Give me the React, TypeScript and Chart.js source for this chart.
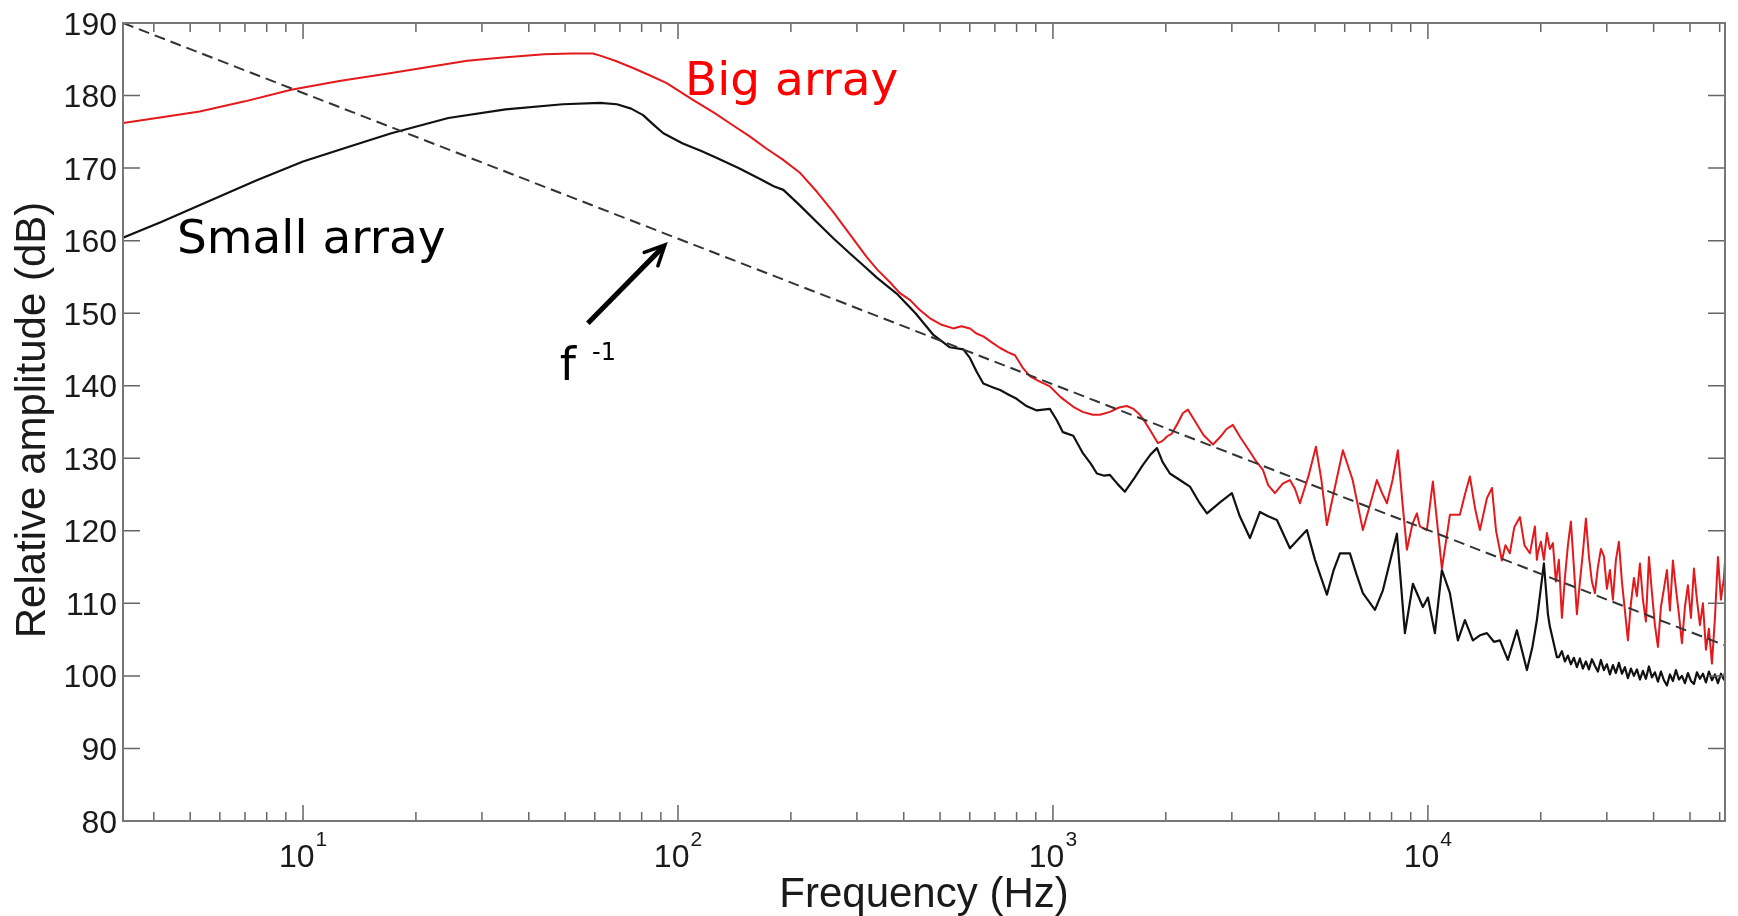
import React, { useEffect, useRef } from "react";
import { Chart, registerables } from "chart.js";

Chart.register(...registerables);

// ---------- axis ranges & ticks ----------
const X_MIN = 3.31;
const X_MAX = 62000;
const Y_MIN = 80;
const Y_MAX = 190;
const yTickValues = [80, 90, 100, 110, 120, 130, 140, 150, 160, 170, 180, 190];
const xMajorTicks = [10, 100, 1000, 10000];
const xMajorBase = "10";
const xMajorExponents = ["1", "2", "3", "4"];

const xTitle = "Frequency (Hz)";
const yTitle = "Relative amplitude (dB)";

// ---------- series: Big array (red) ----------
const bigFreq = [
  3.31, 4.2, 5.3, 7.0, 9.3, 12.5, 17.2, 22, 27.4, 33.5, 44, 52, 59.3, 62, 68, 75.9, 84, 93.3,
  109.6, 125, 140, 155, 172, 190, 211, 235, 259, 288, 318, 340, 367, 390, 416, 440, 470, 505,
  542, 570, 601, 625, 652, 690, 723, 760, 792, 830, 869, 920, 982, 1050, 1133, 1200, 1277, 1334,
  1420, 1500, 1574, 1640, 1706, 1760, 1815, 1905, 1960, 2014, 2076, 2150, 2220, 2291, 2400, 2520,
  2672, 2800, 2900, 3020, 3150, 3353, 3480, 3631, 3750, 3908, 4100, 4285, 4420, 4557, 4800, 5028,
  5200, 5379, 5650, 5933, 6300, 6709, 7000, 7311, 7550, 7777, 8050, 8318, 8550, 8790, 9100, 9347,
  9521, 9938, 10311, 10898, 11448, 12170, 12553, 12942, 13370, 13765, 14370, 14820, 15200, 15750,
  16100, 16540, 17000, 17600, 18100, 18710, 19290, 19530,
  19650, 20015, 20387, 20767, 21153, 21546, 21947, 22355, 22771, 23194, 23626, 24065, 24513, 24969,
  25433, 25906, 26388, 26879, 27379, 27888, 28407, 28935, 29473, 30021, 30580, 31149, 31728, 32318,
  32919, 33532, 34155, 34791, 35438, 36097, 36768, 37452, 38149, 38858, 39581, 40317, 41067, 41831,
  42609, 43402, 44209, 45031, 45869, 46722, 47591, 48476, 49378, 50296, 51232, 52185, 53155, 54144,
  55151, 56177, 57222, 58286, 59370, 60475, 61600, 61940,
];
const bigDb = [
  176.2, 177.0, 177.8, 179.2, 180.8, 182.0, 183.1, 184.0, 184.8, 185.2, 185.7, 185.8, 185.8, 185.5, 184.8, 183.8, 182.8, 181.7,
  179.4, 177.6, 175.9, 174.4, 172.7, 171.2, 169.4, 166.7, 164.0, 160.8, 157.8, 156.0, 154.3, 152.8, 151.8, 150.5, 149.3, 148.4,
  147.9, 148.2, 147.9, 147.2, 146.8, 145.9, 145.2, 144.6, 144.2, 142.5, 141.3, 140.6, 139.9, 138.4, 137.1, 136.4, 136.0, 136.0,
  136.4, 137.0, 137.2, 136.8, 136.0, 135.0, 133.9, 132.1, 132.4, 133.0, 133.4, 134.8, 136.2, 136.7, 135.0, 133.2,
  131.9, 133.0, 134.0, 134.6, 133.0, 130.9, 129.6, 128.4, 126.3, 125.2, 126.5, 127.0, 125.8, 123.8, 127.5, 131.6,
  127.0, 120.8, 126.0, 131.1, 127.0, 120.1, 123.5, 127.0, 125.2, 123.8, 127.0, 131.1, 124.0, 117.4, 121.0, 122.4,
  120.6, 120.1, 126.8, 114.8, 122.2, 122.2, 125.0, 127.5, 123.0, 120.1, 124.5, 125.9, 120.0, 115.9,
  118.0, 116.9, 120.5, 121.9, 118.0, 116.9, 120.6, 116.0,
  117.0, 118.5, 116.0, 119.7, 117.5, 118.3, 113.0, 116.0, 108.0, 113.5, 118.0, 121.3, 115.0, 108.5,
  113.0, 117.0, 121.7, 116.5, 113.0, 111.4, 115.0, 117.5, 116.5, 112.0, 114.6, 110.5, 116.0, 118.5,
  113.0, 109.0, 104.9, 110.0, 113.5, 111.0, 115.5, 110.5, 107.5, 116.4, 111.5, 107.0, 104.0, 109.5,
  112.0, 114.6, 109.0, 115.9, 112.0, 108.5, 104.5, 109.5, 112.5, 108.0, 114.8, 110.5, 107.0, 110.0,
  103.6, 106.5, 101.7, 108.0, 116.4, 110.5, 113.5, 115.5,
];

// ---------- series: Small array (black) ----------
const smallFreq = [
  3.31, 4.2, 5.7, 7.5, 10, 13, 17.2, 24.4, 34.7, 49.3, 62, 68.7, 75, 80.7, 86, 91.4, 103, 115,
  127, 145, 165.5, 180, 191, 210, 234, 260, 288, 315, 339, 383, 430, 480, 531, 577, 601, 625,
  652, 690, 723, 760, 800, 850, 905, 982, 1025, 1063, 1133, 1202, 1260, 1310, 1370, 1419, 1490,
  1556, 1650, 1738, 1820, 1894, 1960, 2051, 2180, 2319, 2450, 2575, 2800, 3001, 3150, 3353, 3565,
  3750, 3957, 4285, 4756, 5000, 5379, 5600, 5827, 6194, 6450, 6709, 7225, 7586, 7900, 8268, 8684,
  9120, 9697, 10000, 10440, 10898, 11448, 12023, 12553, 13183, 13765, 14370, 15000, 15560, 16340,
  17270, 18370, 19000, 19530, 20390, 20900, 21150, 22080,
  22355, 22771, 23194, 23626, 24065, 24513, 24969, 25433, 25906, 26388, 26879, 27379, 27888, 28407,
  28935, 29473, 30021, 30580, 31149, 31728, 32318, 32919, 33532, 34155, 34791, 35438, 36097, 36768,
  37452, 38149, 38858, 39581, 40317, 41067, 41831, 42609, 43402, 44209, 45031, 45869, 46722, 47591,
  48476, 49378, 50296, 51232, 52185, 53155, 54144, 55151, 56177, 57222, 58286, 59370, 60475, 61600,
  61940,
];
const smallDb = [
  160.4, 162.6, 165.6, 168.3, 170.9, 172.8, 174.8, 176.9, 178.1, 178.8, 179.0, 178.8, 178.2, 177.3, 176.0, 174.8, 173.4, 172.4,
  171.4, 170.0, 168.5, 167.5, 167.0, 165.0, 162.6, 160.3, 158.2, 156.4, 154.9, 152.7, 150.0, 147.0, 145.3, 145.0, 143.8, 142.0,
  140.3, 139.8, 139.4, 138.8, 138.2, 137.2, 136.6, 136.8, 135.2, 133.6, 133.1, 130.7, 129.3, 127.9, 127.6, 127.7, 126.4,
  125.4, 127.3, 129.1, 130.5, 131.4, 129.5, 127.9, 127.0, 126.1, 124.0, 122.4, 124.0, 125.2, 122.0, 119.0, 122.6,
  122.0, 121.5, 117.6, 120.1, 116.0, 111.2, 114.5, 116.9, 116.9, 114.0, 111.4, 109.1, 111.8, 115.5, 119.6, 105.9,
  112.7, 109.5, 110.8, 105.9, 114.6, 111.4, 104.9, 107.7, 104.9, 105.6, 105.9, 104.7, 104.9, 102.2,
  106.3, 100.8, 104.0, 107.7, 115.5, 108.5, 106.8, 102.6,
  102.6, 103.4, 102.0, 102.8, 101.6, 102.5, 101.2, 102.4, 101.0, 102.0, 100.9, 102.3, 101.4, 100.6,
  102.2, 100.8, 101.6, 100.2, 101.5, 100.4, 101.8, 100.3, 101.2, 99.7, 101.0, 100.0, 100.9, 99.5,
  100.7, 99.6, 101.3, 99.8, 100.5, 99.2, 100.6, 99.4, 98.7, 100.2, 99.3, 100.8, 99.5, 100.0,
  99.0, 100.4, 99.3, 98.9, 100.5, 99.6, 100.3, 99.1, 100.6, 99.4, 100.2, 99.0, 100.3, 99.5,
  100.4,
];

// ---------- f^-1 reference line ----------
const fLineFreq = [3.31, 62000];
const fLineDb = [190, 104.2];

// ---------- annotations (data coordinates) ----------
const bigLabel = "Big array";
const bigLabelAt = [104.4, 180.1];
const smallLabel = "Small array";
const smallLabelAt = [4.61, 158.3];
const fLabel = "f";
const fExponent = "-1";
const fLabelAt = [48.4, 140.8];
const arrowFrom = [57.5, 148.6];
const arrowTo = [92.3, 159.4];

const zip = (xs: number[], ys: number[]) => xs.map((x, i) => ({ x, y: ys[i] }));

const TICK_FONT = "Liberation Sans, Arial, sans-serif";
const NOTE_FONT = "DejaVu Sans, sans-serif";

const framePlugin = {
  id: "frame",
  afterDatasetsDraw(chart: any) {
    const { ctx, chartArea: a, scales } = chart;
    const xs = scales.x;
    const ys = scales.y;
    ctx.save();

    // tick marks (inside, all four sides)
    ctx.strokeStyle = "#666";
    ctx.lineWidth = 1.5;
    ctx.beginPath();
    for (const v of yTickValues) {
      const py = ys.getPixelForValue(v);
      ctx.moveTo(a.left, py);
      ctx.lineTo(a.left + 17, py);
      ctx.moveTo(a.right, py);
      ctx.lineTo(a.right - 17, py);
    }
    for (const v of xMajorTicks) {
      const px = xs.getPixelForValue(v);
      ctx.moveTo(px, a.bottom);
      ctx.lineTo(px, a.bottom - 16);
      ctx.moveTo(px, a.top);
      ctx.lineTo(px, a.top + 16);
    }
    for (let d = 0; d <= 4; d++) {
      for (let k = 2; k <= 9; k++) {
        const v = k * Math.pow(10, d);
        if (v < X_MIN || v > X_MAX) continue;
        const px = xs.getPixelForValue(v);
        ctx.moveTo(px, a.bottom);
        ctx.lineTo(px, a.bottom - 9);
        ctx.moveTo(px, a.top);
        ctx.lineTo(px, a.top + 9);
      }
    }
    ctx.stroke();

    // box
    ctx.strokeStyle = "#777";
    ctx.lineWidth = 2;
    ctx.strokeRect(a.left, a.top, a.right - a.left, a.bottom - a.top);

    // y tick labels
    ctx.fillStyle = "#1a1a1a";
    ctx.font = `32px ${TICK_FONT}`;
    ctx.textAlign = "right";
    ctx.textBaseline = "alphabetic";
    for (const v of yTickValues) {
      const py = ys.getPixelForValue(v);
      ctx.fillText(String(v), a.left - 6, py + 11.5);
    }

    // x tick labels with superscripts
    xMajorTicks.forEach((v, i) => {
      const px = xs.getPixelForValue(v);
      ctx.font = `32px ${TICK_FONT}`;
      const wb = ctx.measureText(xMajorBase).width;
      ctx.font = `21px ${TICK_FONT}`;
      const we = ctx.measureText(xMajorExponents[i]).width;
      const left = px - (wb + we + 1) / 2;
      ctx.textAlign = "left";
      ctx.font = `32px ${TICK_FONT}`;
      ctx.fillText(xMajorBase, left, a.bottom + 46);
      ctx.font = `21px ${TICK_FONT}`;
      ctx.fillText(xMajorExponents[i], left + wb + 1, a.bottom + 25);
    });

    // axis titles
    ctx.font = `42px ${TICK_FONT}`;
    ctx.textAlign = "center";
    ctx.fillText(xTitle, (a.left + a.right) / 2, a.bottom + 86);
    ctx.save();
    ctx.translate(45, (a.top + a.bottom) / 2 - 2);
    ctx.rotate(-Math.PI / 2);
    ctx.fillText(yTitle, 0, 0);
    ctx.restore();

    // annotations
    ctx.textAlign = "left";
    ctx.font = `47px ${NOTE_FONT}`;
    ctx.fillStyle = "#ff0000";
    ctx.fillText(bigLabel, xs.getPixelForValue(bigLabelAt[0]), ys.getPixelForValue(bigLabelAt[1]));
    ctx.fillStyle = "#000";
    ctx.fillText(smallLabel, xs.getPixelForValue(smallLabelAt[0]), ys.getPixelForValue(smallLabelAt[1]));
    const fx = xs.getPixelForValue(fLabelAt[0]);
    const fy = ys.getPixelForValue(fLabelAt[1]);
    ctx.font = `46px ${NOTE_FONT}`;
    ctx.fillText(fLabel, fx, fy);
    const fw = ctx.measureText(fLabel).width;
    ctx.font = `24px ${NOTE_FONT}`;
    ctx.fillText(fExponent, fx + fw + 16, fy - 20);

    // arrow
    const x0 = xs.getPixelForValue(arrowFrom[0]);
    const y0 = ys.getPixelForValue(arrowFrom[1]);
    const x1 = xs.getPixelForValue(arrowTo[0]);
    const y1 = ys.getPixelForValue(arrowTo[1]);
    const ang = Math.atan2(y1 - y0, x1 - x0);
    ctx.strokeStyle = "#000";
    ctx.lineWidth = 5;
    ctx.beginPath();
    ctx.moveTo(x0, y0);
    ctx.lineTo(x1 - 3 * Math.cos(ang), y1 - 3 * Math.sin(ang));
    ctx.stroke();
    ctx.lineWidth = 3.5;
    ctx.lineCap = "round";
    ctx.beginPath();
    const hl = 22;
    ctx.moveTo(x1 - hl * Math.cos(ang - 0.45), y1 - hl * Math.sin(ang - 0.45));
    ctx.lineTo(x1, y1);
    ctx.lineTo(x1 - hl * Math.cos(ang + 0.45), y1 - hl * Math.sin(ang + 0.45));
    ctx.stroke();

    ctx.restore();
  },
};

export default function App() {
  const canvasRef = useRef<HTMLCanvasElement | null>(null);

  useEffect(() => {
    const canvas = canvasRef.current;
    if (!canvas) return;
    const chart = new Chart(canvas, {
      type: "line",
      data: {
        datasets: [
          {
            label: "f^-1",
            data: zip(fLineFreq, fLineDb),
            borderColor: "#333",
            borderWidth: 2,
            borderDash: [11, 6],
            pointRadius: 0,
            tension: 0,
          },
          {
            label: "Big array",
            data: zip(bigFreq, bigDb),
            borderColor: "#e3191c",
            borderWidth: 2,
            pointRadius: 0,
            tension: 0,
            borderJoinStyle: "round",
          },
          {
            label: "Small array",
            data: zip(smallFreq, smallDb),
            borderColor: "#111",
            borderWidth: 2.2,
            pointRadius: 0,
            tension: 0,
            borderJoinStyle: "round",
          },
        ],
      },
      options: {
        responsive: false,
        devicePixelRatio: 1,
        animation: false,
        layout: { padding: { left: 123, right: 13, top: 23, bottom: 95 } },
        plugins: { legend: { display: false }, tooltip: { enabled: false } },
        scales: {
          x: { type: "logarithmic", min: X_MIN, max: X_MAX, display: false },
          y: { type: "linear", min: Y_MIN, max: Y_MAX, display: false },
        },
      },
      plugins: [framePlugin],
    });
    return () => chart.destroy();
  }, []);

  return (
    <div style={{ position: "fixed", left: 0, top: 0, width: 1738, height: 916, background: "#fff" }}>
      <canvas ref={canvasRef} width={1738} height={916} style={{ display: "block" }} />
    </div>
  );
}
